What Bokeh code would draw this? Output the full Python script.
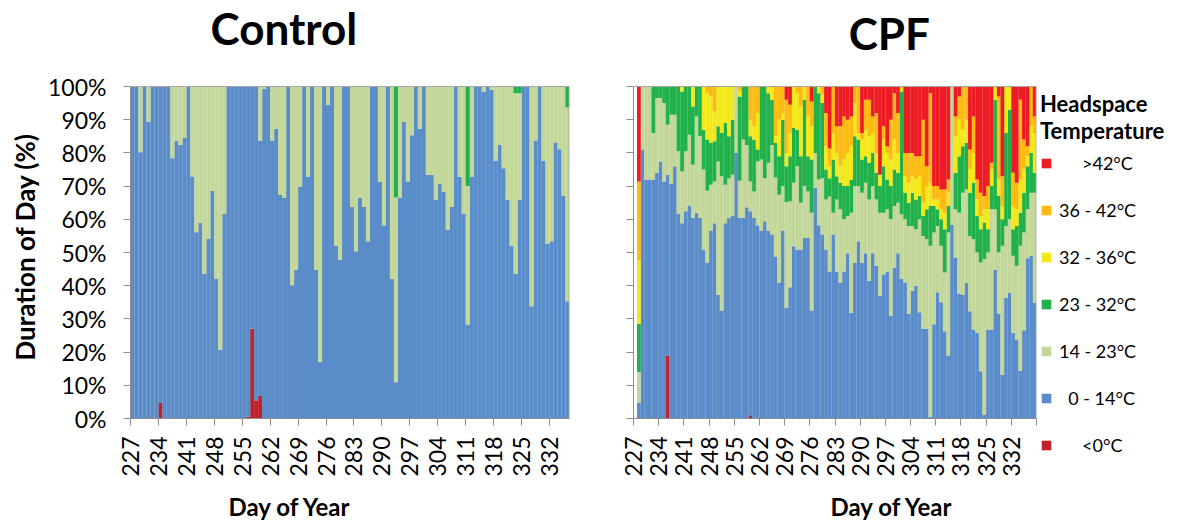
import numpy as np
from bokeh.plotting import figure
from bokeh.models import ColumnDataSource, Range1d, FixedTicker, Title, Legend, LegendItem
from bokeh.layouts import row
from bokeh.embed import file_html
from bokeh.resources import INLINE
from bokeh.core.properties import value

FONT = "Lato"
NB = "\u00a0"

# ---------------- data ----------------
legend_labels = [NB * 5 + ">42°C", "36 - 42°C", "32 - 36°C", "23 - 32°C", "14 - 23°C",
                 NB * 2 + "0 - 14°C", NB * 5 + "<0°C"]
y_ticks = [0, 10, 20, 30, 40, 50, 60, 70, 80, 90, 100]
y_tick_labels = ["0%", "10%", "20%", "30%", "40%", "50%", "60%", "70%", "80%", "90%", "100%"]
ctrl_ticks = [227, 234, 241, 248, 255, 262, 269, 276, 283, 290, 297, 304, 311, 318, 325, 332]
cpf_ticks = [227, 234, 241, 248, 255, 262, 269, 276, 283, 290, 297, 304, 311, 318, 325, 332, 339]

# Control: days 227-336
ctrl_days = list(range(227, 337))
ctrl_below_0 = [
    0, 0, 0, 0, 0, 0, 0, 4.7, 0, 0,
    0, 0, 0, 0, 0, 0, 0, 0, 0, 0,
    0, 0, 0, 0, 0, 0, 0, 0, 0, 0.5,
    27, 5.4, 6.8, 0, 0, 0, 0, 0, 0, 0,
    0, 0, 0, 0, 0, 0, 0, 0, 0, 0,
    0, 0, 0, 0, 0, 0, 0, 0, 0, 0,
    0, 0, 0, 0, 0, 0, 0, 0, 0, 0,
    0, 0, 0, 0, 0, 0, 0, 0, 0, 0,
    0, 0, 0, 0, 0, 0, 0, 0, 0, 0,
    0, 0, 0, 0, 0, 0, 0, 0, 0, 0,
    0, 0, 0, 0, 0, 0, 0, 0, 0, 0,
]
ctrl_top_0_14 = [
    100, 100, 80.2, 100, 89.4, 100, 100, 100, 100, 100,
    78.4, 83.7, 82.4, 84.5, 100, 72.9, 56.1, 58.9, 43.5, 54.1,
    68.6, 42.2, 20.8, 61.6, 100, 100, 100, 100, 100, 100,
    100, 100, 83.7, 99.3, 100, 83.7, 87.2, 67.3, 66.4, 100,
    40.1, 44.8, 69.9, 100, 72.9, 100, 44.8, 17, 100, 94.5,
    100, 52, 47.8, 100, 100, 63.7, 50.4, 66.4, 63.7, 53.4,
    100, 100, 71.4, 58.2, 100, 42.1, 10.9, 66.4, 89.3, 71.4,
    85.3, 100, 87.3, 100, 73.4, 73.4, 65.9, 70.6, 68.4, 56.8,
    63.8, 100, 72.8, 61.6, 28.3, 72.8, 100, 100, 98.5, 100,
    99, 77.6, 82.4, 75.4, 65.9, 52, 43.5, 65.9, 100, 100,
    33.8, 83.7, 100, 77.6, 52.6, 53.4, 83.1, 81.1, 67.2, 35.3,
]
ctrl_23_32 = [
    0, 0, 0, 0, 0, 0, 0, 0, 0, 0,
    0, 0, 0, 0, 0, 0, 0, 0, 0, 0,
    0, 0, 0, 0, 0, 0, 0, 0, 0, 0,
    0, 0, 0, 0, 0, 0, 0, 0, 0, 0,
    0, 0, 0, 0, 0, 0, 0, 0, 0, 0,
    0, 0, 0, 0, 0, 0, 0, 0, 0, 0,
    0, 0, 0, 0, 0, 0, 33.4, 0, 0, 0,
    0, 0, 0, 0, 0, 0, 0, 0, 0, 0,
    0, 0, 0, 0, 30, 0, 0, 0, 0, 0,
    0, 0, 0, 0, 0, 0, 2, 2, 0, 0,
    0, 0, 0, 0, 0, 0, 0, 0, 0, 6.3,
]

# CPF: days 228-338 (upper edge of each band, % of day)
cpf_days = list(range(228, 339))
cpf_below_0 = [0] * 111
cpf_below_0[8] = 19
cpf_below_0[31] = 1
cpf_top_0_14 = [
    4.7, 81, 72, 72, 72, 74, 77.4, 71.4, 73.4, 70.6,
    76, 61.6, 58.8, 62.4, 64, 60.5, 62, 60.5, 50.9, 47,
    56.6, 58.8, 37.3, 32.5, 58.8, 60.5, 61, 80, 60.5, 60.5,
    63.6, 62.4, 60.4, 58.2, 56.6, 59.4, 56.6, 55.4, 48.8, 40.8,
    56.6, 33.3, 39.5, 51.9, 50.9, 50.9, 54.4, 54.4, 32.5, 69.4,
    58.2, 55.4, 50.9, 44.3, 55.4, 44.3, 40.8, 44.3, 49.8, 31.8,
    46.8, 53.4, 46.8, 49.8, 41.5, 49.8, 46, 37, 43.4, 44.3,
    31, 45.5, 49.8, 42, 41, 31.5, 38.5, 40, 32, 27,
    27, 0.5, 28.4, 38, 35, 26.3, 19, 58.3, 48.5, 37.5,
    37.3, 40.8, 32.3, 26.8, 25.8, 14.2, 1.2, 26.8, 26.8, 44.8,
    31.5, 13.2, 36.3, 37.8, 25.8, 23.8, 14.4, 26.6, 48.3, 49, 34.8,
]
cpf_top_14_23 = [
    14, 100, 100, 100, 86, 96.5, 96.5, 95, 88.5, 91.5,
    91.5, 80.5, 74.4, 80.5, 85.5, 76.4, 91, 85, 75, 68.6,
    70.4, 71.4, 77.4, 73, 70.4, 72.4, 73.4, 100, 71.6, 84,
    82.4, 71.4, 68.4, 77.4, 78, 72.4, 77, 82.4, 72.6, 67.4,
    70, 65.2, 65.4, 71, 76, 65, 70, 68.4, 62, 80,
    72, 72.4, 66, 66.9, 62, 66, 63, 60, 61, 62,
    70, 70, 68, 71, 66, 70, 66, 62, 62, 63,
    60, 64, 65, 61.5, 60, 58, 58, 57, 60, 55,
    54, 52, 56, 58, 52, 44, 56, 100, 63, 62,
    68, 69, 55, 54, 50, 47, 48, 50, 63, 63,
    50, 52, 58, 60, 49, 46, 52, 56, 63, 68, 68,
]
cpf_top_23_32 = [
    28.5, 100, 100, 100, 100, 100, 100, 100, 100, 100,
    100, 100, 98.5, 100, 100, 94, 100, 100, 87, 84,
    83, 83.5, 88, 86, 89, 85, 90, 100, 97, 100,
    100, 85, 84, 81, 100, 100, 98, 96, 83, 79,
    90, 76, 79, 87.5, 87, 79, 96, 79, 78, 100,
    98, 95, 75, 72.4, 78, 73, 71, 70, 70, 72,
    85, 84, 78, 79, 77, 80, 74, 70, 76, 72,
    70, 75, 74, 98.5, 68, 65, 68, 66, 67, 61,
    63, 64, 64, 63, 60, 57, 64, 100, 74, 79,
    82, 83, 68, 71, 61, 57, 59, 57, 70, 96,
    67, 60, 86, 93, 57, 58, 62, 68, 76, 80, 74,
]
cpf_top_32_36 = [
    47.6, 100, 100, 100, 100, 100, 100, 100, 100, 100,
    100, 100, 100, 100, 100, 100, 100, 100, 100, 98,
    97, 92.5, 100, 100, 100, 100, 100, 100, 98.5, 100,
    100, 90, 88, 92, 100, 100, 100, 100, 85, 90,
    92, 80, 86, 100, 98, 94, 100, 91, 88, 100,
    100, 97.5, 82, 76, 86, 80, 76, 78, 80, 82,
    95, 86, 84, 87, 85, 86, 80, 73.4, 84, 80,
    78, 84, 80, 100, 73, 71, 73, 72, 73, 65,
    70, 71, 66, 66, 63, 62, 68, 100, 85, 90,
    87, 90, 75, 80, 66, 61, 63, 63, 75, 100,
    72, 64, 100, 100, 64, 63, 72, 75, 79, 88, 86,
]
cpf_top_36_42 = [
    71.4, 100, 100, 100, 100, 100, 100, 100, 100, 100,
    100, 100, 100, 100, 100, 100, 100, 100, 100, 100,
    100, 100, 100, 100, 100, 100, 100, 100, 100, 100,
    100, 100, 100, 100, 100, 100, 100, 100, 100, 100,
    100, 96, 94.5, 100, 100, 100, 100, 100, 95.5, 100,
    100, 100, 92, 81.3, 100, 88, 88, 91, 90, 91,
    100, 100, 86, 96, 96, 91, 92, 73.4, 88, 82,
    90, 98, 92, 100, 80, 80, 80, 79, 79, 90,
    76, 98, 70, 70, 69, 69, 72, 100, 91, 97,
    100, 100, 81, 91, 72, 68, 67, 70, 77, 100,
    97, 73, 100, 100, 74, 71, 96, 84, 82, 100, 91,
]

# ---------------- build stacks ----------------
stackers = ["neg", "b0_14", "b14_23", "b23_32", "b32_36", "b36_42", "b42"]
stack_colors = ["#C0202A", "#598CC8", "#C4D79B", "#21B14B", "#F3E81B", "#FDBA12", "#ED1C24"]

c_neg = np.array(ctrl_below_0, float)
c_top = np.array(ctrl_top_0_14, float)
c_g = np.array(ctrl_23_32, float)
n1 = len(ctrl_days)
src1 = ColumnDataSource(dict(
    x=np.array(ctrl_days) + 0.5,
    neg=c_neg, b0_14=c_top - c_neg, b14_23=100 - c_top - c_g, b23_32=c_g,
    b32_36=np.zeros(n1), b36_42=np.zeros(n1), b42=np.zeros(n1),
))

p_neg = np.array(cpf_below_0, float)
tB = np.array(cpf_top_0_14, float)
tL = np.array(cpf_top_14_23, float)
tG = np.array(cpf_top_23_32, float)
tY = np.array(cpf_top_32_36, float)
tO = np.array(cpf_top_36_42, float)
clip = lambda a: np.clip(a, 0, None)
src2 = ColumnDataSource(dict(
    x=np.array(cpf_days) + 0.5,
    neg=p_neg, b0_14=clip(tB - p_neg), b14_23=clip(tL - tB), b23_32=clip(tG - tL),
    b32_36=clip(tY - tG), b36_42=clip(tO - tY), b42=clip(100 - tO),
))

AX = "#8E8E8E"
EDGE = "#A6A6A6"
PX_PER_PCT = 3.32          # plot height 332 px for 0-100 %
FRAME_H = 418              # frame reaches up to the top of the page (room for the titles)
Y_TOP = FRAME_H / PX_PER_PCT


def style(p, ticks, labels_x, show_y_labels):
    p.xgrid.visible = False
    p.ygrid.visible = False
    p.outline_line_color = None
    p.background_fill_color = "white"
    for ax in (p.xaxis[0], p.yaxis[0]):
        ax.axis_line_color = AX
        ax.major_tick_line_color = AX
        ax.minor_tick_line_color = None
        ax.major_tick_out = 7
        ax.major_tick_in = 0
        ax.major_label_text_font = FONT
        ax.major_label_text_font_size = "23px"
        ax.major_label_text_color = "black"
    p.xaxis.ticker = FixedTicker(ticks=ticks)
    p.xaxis.major_label_overrides = {t: l for t, l in zip(ticks, labels_x)}
    p.xaxis.major_label_orientation = np.pi / 2
    p.xaxis.major_label_standoff = 11
    p.yaxis.ticker = FixedTicker(ticks=y_ticks)
    p.yaxis.bounds = (0, 100)
    if show_y_labels:
        p.yaxis.major_label_overrides = {t: l for t, l in zip(y_ticks, y_tick_labels)}
        p.yaxis.major_label_standoff = 17
    else:
        p.yaxis.major_label_overrides = {t: "" for t in y_ticks}


def frame_edges(p, x0, x1):
    # plot-area border on top and right (the frame itself extends higher for the title)
    p.segment(x0=[x0, x1 - 0.1], y0=[100, 0], x1=[x1, x1 - 0.1], y1=[100, 100],
              line_color=EDGE, line_width=1)


def add_title(p, text, x, y):
    p.text(x=[x], y=[y], text=[text], text_font=value(FONT), text_font_size="44px",
           text_font_style="bold", text_color="black", text_align="left",
           text_baseline="alphabetic")


def add_xlabel(p, offset):
    p.add_layout(Title(text="Day of Year", align="left", offset=offset, standoff=20,
                       text_font=FONT, text_font_size="24px", text_font_style="bold",
                       text_color="black"), "below")


# Control
p1 = figure(frame_width=439, frame_height=FRAME_H, x_range=Range1d(227, 337),
            y_range=Range1d(0, Y_TOP), output_backend="svg", toolbar_location=None,
            min_border_left=130, min_border_right=10, min_border_top=0, min_border_bottom=109)
p1.vbar_stack(stackers, x="x", width=1.04, color=stack_colors, line_color=None, source=src1)
style(p1, ctrl_ticks, [str(t) for t in ctrl_ticks], True)
frame_edges(p1, 227, 337)
add_title(p1, "Control", 247.05, 117.6)
p1.add_layout(Title(text="Duration of Day (%)", align="left", offset=58, standoff=10,
                    vertical_align="bottom", text_font=FONT, text_font_size="26px",
                    text_font_style="bold", text_color="black"), "left")
add_xlabel(p1, 98)

# CPF
p2 = figure(frame_width=403, frame_height=FRAME_H, x_range=Range1d(227, 339),
            y_range=Range1d(0, Y_TOP), output_backend="svg", toolbar_location=None,
            min_border_left=54, min_border_right=4, min_border_top=0, min_border_bottom=109)
rs = p2.vbar_stack(stackers, x="x", width=1.04, color=stack_colors, line_color=None, source=src2)
style(p2, cpf_ticks, [str(t) for t in cpf_ticks[:-1]] + [""], False)
frame_edges(p2, 227, 339)
add_title(p2, "CPF", 286.8, 116.2)
add_xlabel(p2, 197)

items = [LegendItem(label=lab, renderers=[r]) for lab, r in zip(legend_labels, rs[::-1])]
legend = Legend(items=items, location=(4, -38), orientation="vertical",
                title="Headspace\nTemperature", title_text_font=FONT, title_text_font_size="22px",
                title_text_font_style="bold", title_text_color="black", title_standoff=8,
                label_text_font=FONT, label_text_font_size="18px", label_text_color="black",
                glyph_width=12, glyph_height=12, label_height=20, label_standoff=7,
                spacing=25, padding=6, margin=0, border_line_color=None,
                background_fill_alpha=0)
p2.add_layout(legend, "right")

layout = row(p1, p2)
open("out.html", "w").write(file_html(layout, INLINE))
